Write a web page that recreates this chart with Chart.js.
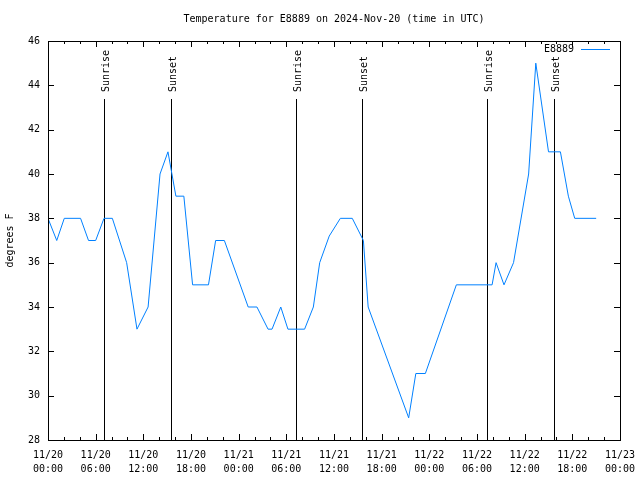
<!DOCTYPE html>
<html>
<head>
<meta charset="utf-8">
<script src="https://cdn.jsdelivr.net/npm/chart.js@4/dist/chart.umd.min.js"></script>
<style>
  html, body { margin: 0; padding: 0; background: #fff; }
</style>
</head>
<body>
<canvas id="out" width="640" height="480"></canvas>
<script>
// hours since 2024-11-20 00:00 UTC
const hours = [0, 1.1, 2.05, 4.1, 5.1, 6, 7.05, 8.1, 9.9, 11.2, 12.6, 14.1, 15.1, 16.1, 17.1,
  18.2, 20.2, 21.1, 22.2, 25.2, 26.3, 27.7, 28.2, 29.3, 30.2, 32.3, 33.4, 34.2, 35.4,
  36.8, 38.3, 39.7, 40.3, 45.4, 46.3, 47.5, 51.4, 55.9, 56.4, 57.4, 58.6, 60.5, 61.4,
  63, 64.5, 65.5, 66.3, 69];
const temps = [38, 37, 38, 38, 37, 37, 38, 38, 36, 33, 34, 40, 41, 39, 39,
  35, 35, 37, 37, 34, 34, 33, 33, 34, 33, 33, 34, 36, 37.2,
  38, 38, 37, 34, 29, 31, 31, 35, 35, 36, 35, 36, 40, 45,
  41, 41, 39, 38, 38];
const tickDays = ['11/20', '11/20', '11/20', '11/20', '11/21', '11/21', '11/21', '11/21',
  '11/22', '11/22', '11/22', '11/22', '11/23'];
const tickTimes = ['00:00', '06:00', '12:00', '18:00', '00:00', '06:00', '12:00', '18:00',
  '00:00', '06:00', '12:00', '18:00', '00:00'];
const sunriseHours = [7.05, 31.2, 55.25];
const sunsetHours = [15.5, 39.5, 63.7];

const FONT = '"DejaVu Sans Mono", "Liberation Mono", monospace';
const lineColor = 'rgb(0, 128, 255)';

const points = hours.map((h, i) => ({ x: h, y: temps[i] }));

const decorPlugin = {
  id: 'decor',
  beforeDatasetsDraw(chart) {
    const ctx = chart.ctx;
    const xs = chart.scales.x;
    const area = chart.chartArea;
    ctx.save();
    ctx.strokeStyle = '#000';
    ctx.lineWidth = 1;
    ctx.fillStyle = '#000';
    ctx.font = '10px ' + FONT;
    const marks = [];
    sunriseHours.forEach(h => marks.push([h, 'Sunrise']));
    sunsetHours.forEach(h => marks.push([h, 'Sunset']));
    for (const [h, label] of marks) {
      const px = Math.round(xs.getPixelForValue(h)) + 0.5;
      ctx.beginPath();
      ctx.moveTo(px, area.top + 58);
      ctx.lineTo(px, area.bottom);
      ctx.stroke();
      ctx.save();
      ctx.translate(px + 2, area.top + 51);
      ctx.rotate(-Math.PI / 2);
      ctx.textAlign = 'left';
      ctx.textBaseline = 'middle';
      ctx.fillText(label, 0, 0);
      ctx.restore();
    }
    ctx.restore();
  },
  afterDraw(chart) {
    const ctx = chart.ctx;
    const xs = chart.scales.x;
    const ys = chart.scales.y;
    const a = chart.chartArea;
    ctx.save();
    ctx.strokeStyle = '#000';
    ctx.lineWidth = 1;
    // frame
    ctx.strokeRect(Math.round(a.left) + 0.5, Math.round(a.top) + 0.5,
      Math.round(a.right - a.left), Math.round(a.bottom - a.top));
    // inward ticks, mirrored
    ctx.beginPath();
    for (let h = 0; h <= 72; h += 2) {
      const px = Math.round(xs.getPixelForValue(h)) + 0.5;
      const len = h % 6 === 0 ? 6 : 3;
      ctx.moveTo(px, a.bottom); ctx.lineTo(px, a.bottom - len);
      ctx.moveTo(px, a.top); ctx.lineTo(px, a.top + len);
    }
    for (let v = 28; v <= 46; v += 2) {
      const py = Math.round(ys.getPixelForValue(v)) + 0.5;
      ctx.moveTo(a.left, py); ctx.lineTo(a.left + 6, py);
      ctx.moveTo(a.right, py); ctx.lineTo(a.right - 6, py);
    }
    ctx.stroke();

    ctx.fillStyle = '#000';
    ctx.font = '10px ' + FONT;
    // title
    ctx.textAlign = 'center';
    ctx.textBaseline = 'middle';
    ctx.fillText('Temperature for E8889 on 2024-Nov-20 (time in UTC)', (a.left + a.right) / 2, 19);
    // y axis label
    ctx.save();
    ctx.translate(10, (a.top + a.bottom) / 2);
    ctx.rotate(-Math.PI / 2);
    ctx.fillText('degrees F', 0, 0);
    ctx.restore();
    // legend
    const ds = chart.data.datasets[0];
    ctx.textAlign = 'right';
    ctx.fillText(ds.label, 574, 49);
    ctx.strokeStyle = ds.borderColor;
    ctx.beginPath();
    ctx.moveTo(581, 49.5);
    ctx.lineTo(610, 49.5);
    ctx.stroke();
    ctx.restore();
  }
};

const chartConfig = {
  type: 'scatter',
  data: {
    datasets: [
      {
        label: 'E8889',
        data: points,
        showLine: true,
        borderColor: lineColor,
        backgroundColor: lineColor,
        borderWidth: 1,
        pointRadius: 0,
        tension: 0
      }
    ]
  },
  options: {
    responsive: false,
    animation: false,
    devicePixelRatio: 1,
    layout: { padding: { left: 0, right: 20, top: 41, bottom: 0 } },
    plugins: {
      legend: { display: false },
      title: { display: false },
      tooltip: { enabled: false }
    },
    scales: {
      x: {
        type: 'linear',
        min: 0,
        max: 72,
        afterFit(scale) {
          scale.height = 40;
          scale.paddingLeft = 0;
          scale.paddingRight = 0;
        },
        grid: { display: false, drawTicks: false },
        border: { display: false },
        ticks: {
          stepSize: 2,
          autoSkip: false,
          maxRotation: 0,
          padding: 8,
          color: '#000',
          font: { family: FONT, size: 10, lineHeight: 1.4 },
          callback: (v) => {
            if (v % 6 !== 0) return '';
            const i = v / 6;
            return [tickDays[i], tickTimes[i]];
          }
        }
      },
      y: {
        min: 28,
        max: 46,
        afterFit(scale) {
          scale.width = 48;
          scale.paddingTop = 0;
          scale.paddingBottom = 0;
        },
        grid: { display: false, drawTicks: false },
        border: { display: false },
        ticks: {
          stepSize: 2,
          padding: 8,
          color: '#000',
          font: { family: FONT, size: 10 }
        }
      }
    }
  },
  plugins: [decorPlugin]
};

window.chart = new Chart(document.getElementById('out').getContext('2d'), chartConfig);
</script>
</body>
</html>
